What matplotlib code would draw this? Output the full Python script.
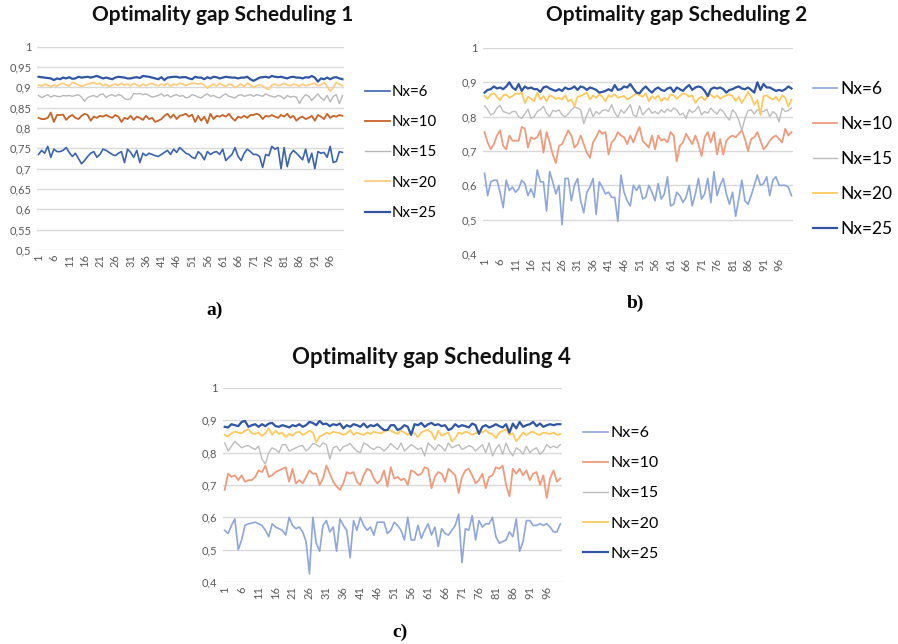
"""
Optimality gap per scheduling strategy (three Excel-style line charts).
"""

import numpy as np
import matplotlib
matplotlib.use("Agg")
import matplotlib.pyplot as plt

W, H = 898, 644

labels = ["Nx=6", "Nx=10", "Nx=15", "Nx=20", "Nx=25"]
runs = np.arange(1, 101)

# values below are in thousandths (0.925 -> 925)
s1_nx6 = [
    735, 745, 738, 755, 728, 748, 742, 742, 745, 752,
    740, 730, 738, 725, 712, 720, 730, 738, 742, 728,
    735, 748, 745, 740, 735, 732, 738, 742, 715, 748,
    740, 728, 745, 715, 738, 732, 738, 735, 732, 730,
    735, 740, 745, 735, 748, 740, 752, 745, 738, 735,
    728, 725, 742, 735, 722, 742, 735, 740, 742, 735,
    748, 720, 728, 735, 752, 730, 720, 738, 748, 742,
    735, 735, 730, 703, 735, 732, 755, 748, 752, 700,
    752, 705, 735, 745, 738, 730, 722, 748, 715, 738,
    700, 742, 738, 740, 728, 755, 715, 718, 742, 740,
]
s1_nx10 = [
    825, 822, 822, 825, 838, 815, 832, 832, 833, 820,
    828, 832, 825, 822, 830, 835, 832, 818, 828, 825,
    830, 828, 832, 828, 825, 832, 828, 815, 825, 822,
    830, 820, 828, 825, 820, 830, 822, 825, 815, 818,
    822, 830, 835, 825, 833, 822, 830, 832, 835, 828,
    833, 815, 830, 818, 828, 812, 835, 822, 830, 828,
    832, 828, 835, 825, 818, 828, 825, 830, 825, 832,
    832, 835, 832, 822, 830, 828, 832, 828, 825, 832,
    828, 835, 825, 830, 818, 825, 828, 822, 825, 830,
    818, 832, 828, 822, 835, 825, 830, 828, 832, 830,
]
s1_nx15 = [
    880, 875, 878, 882, 876, 880, 878, 877, 880, 879,
    880, 878, 880, 882, 876, 866, 875, 878, 880, 876,
    882, 884, 875, 880, 882, 878, 882, 880, 872, 870,
    872, 885, 884, 885, 882, 884, 880, 876, 878, 880,
    884, 878, 882, 876, 880, 882, 878, 880, 874, 876,
    882, 880, 876, 874, 880, 884, 878, 880, 876, 874,
    880, 884, 878, 876, 874, 880, 882, 878, 880, 882,
    878, 882, 880, 878, 884, 880, 878, 876, 880, 878,
    872, 880, 876, 878, 876, 860, 874, 882, 878, 868,
    876, 884, 874, 868, 880, 864, 878, 882, 860, 880,
]
s1_nx20 = [
    906, 903, 908, 905, 902, 906, 903, 908, 910, 906,
    903, 912, 910, 906, 903, 905, 908, 910, 912, 908,
    910, 904, 908, 902, 906, 908, 905, 910, 906, 908,
    904, 910, 906, 903, 908, 904, 908, 910, 906, 904,
    908, 905, 910, 903, 908, 906, 910, 908, 904, 908,
    910, 910, 908, 910, 905, 898, 904, 908, 903, 910,
    906, 902, 908, 906, 900, 904, 908, 902, 910, 906,
    900, 904, 906, 904, 898, 895, 906, 908, 904, 906,
    910, 906, 904, 908, 906, 903, 908, 904, 906, 908,
    910, 904, 906, 912, 903, 890, 900, 912, 908, 904,
]
s1_nx25 = [
    926, 925, 924, 923, 922, 918, 922, 920, 924, 922,
    925, 921, 922, 926, 924, 925, 926, 924, 926, 928,
    925, 922, 924, 922, 920, 924, 926, 925, 924, 922,
    922, 924, 925, 923, 928, 927, 926, 924, 922, 920,
    925, 918, 924, 925, 926, 926, 924, 925, 925, 922,
    920, 926, 924, 924, 920, 925, 922, 926, 925, 922,
    924, 926, 925, 924, 924, 922, 924, 924, 926, 920,
    916, 920, 924, 925, 926, 924, 928, 926, 925, 926,
    924, 922, 925, 926, 924, 924, 922, 925, 924, 928,
    924, 914, 922, 920, 924, 920, 924, 925, 922, 920,
]

s2_nx6 = [
    635, 570, 610, 615, 615, 580, 535, 615, 585, 595,
    580, 590, 615, 605, 570, 590, 565, 645, 610, 610,
    525, 640, 610, 575, 600, 485, 620, 620, 555, 600,
    620, 555, 520, 580, 595, 620, 515, 610, 595, 575,
    580, 565, 565, 495, 630, 580, 555, 540, 600, 585,
    600, 560, 565, 600, 580, 555, 605, 560, 575, 625,
    540, 545, 580, 570, 550, 565, 600, 540, 575, 620,
    560, 575, 620, 550, 640, 570, 600, 620, 575, 545,
    580, 510, 560, 615, 555, 545, 570, 600, 630, 600,
    605, 625, 570, 615, 625, 600, 600, 600, 595, 570,
]
s2_nx10 = [
    755, 725, 705, 720, 745, 760, 715, 705, 745, 730,
    730, 730, 770, 765, 710, 740, 735, 740, 760, 695,
    755, 725, 690, 665, 715, 720, 740, 760, 745, 710,
    720, 745, 720, 695, 680, 725, 740, 760, 750, 755,
    690, 725, 735, 755, 745, 740, 720, 745, 725, 750,
    770, 730, 720, 710, 745, 705, 745, 730, 735, 725,
    755, 745, 670, 715, 725, 750, 735, 720, 745, 720,
    685, 740, 755, 725, 755, 690, 735, 690, 730, 740,
    745, 740, 750, 760, 735, 700, 735, 740, 755, 730,
    705, 715, 730, 740, 745, 735, 725, 765, 745, 755,
]
s2_nx15 = [
    832, 820, 805, 810, 825, 833, 815, 812, 808, 815,
    815, 800, 795, 808, 822, 795, 800, 815, 820, 830,
    810, 800, 818, 815, 820, 805, 800, 808, 820, 828,
    825, 820, 780, 805, 825, 800, 815, 808, 818, 820,
    815, 835, 812, 798, 820, 810, 822, 835, 805, 800,
    832, 805, 815, 825, 810, 815, 808, 820, 812, 822,
    815, 825, 820, 805, 810, 795, 820, 812, 818, 830,
    805, 815, 810, 825, 815, 808, 822, 815, 800, 790,
    820, 810, 790, 760, 795, 818, 820, 808, 820, 815,
    815, 822, 800, 815, 808, 785, 825, 815, 818, 825,
]
s2_nx20 = [
    860, 852, 865, 868, 858, 848, 862, 865, 855, 860,
    868, 866, 870, 840, 858, 852, 845, 870, 850, 860,
    845, 862, 858, 852, 855, 850, 862, 845, 850, 830,
    858, 860, 865, 870, 850, 862, 855, 865, 858, 845,
    862, 858, 865, 855, 858, 860, 850, 855, 862, 868,
    862, 858, 868, 845, 860, 852, 862, 845, 855, 848,
    865, 862, 852, 860, 868, 865, 858, 862, 840, 852,
    858, 848, 860, 865, 855, 862, 852, 858, 862, 865,
    860, 845, 858, 840, 855, 872, 858, 835, 848, 805,
    860, 862, 855, 850, 858, 845, 862, 855, 830, 850,
]
s2_nx25 = [
    870, 878, 880, 888, 882, 885, 880, 888, 900, 885,
    878, 895, 875, 888, 882, 885, 880, 880, 872, 885,
    888, 882, 878, 875, 880, 875, 885, 880, 882, 888,
    878, 888, 885, 878, 885, 882, 878, 870, 872, 875,
    880, 875, 892, 878, 880, 888, 885, 895, 882, 870,
    868, 880, 888, 878, 870, 880, 885, 878, 875, 882,
    885, 872, 885, 880, 875, 885, 892, 878, 885, 888,
    885, 875, 860, 880, 885, 882, 885, 880, 870, 878,
    880, 885, 888, 882, 880, 885, 878, 870, 900, 878,
    895, 885, 885, 880, 875, 878, 875, 880, 888, 882,
]

s4_nx6 = [
    560, 550, 575, 595, 500, 530, 575, 580, 582, 585,
    580, 575, 560, 540, 580, 570, 565, 560, 545, 600,
    575, 565, 570, 555, 525, 425, 600, 520, 495, 575,
    590, 555, 570, 495, 595, 575, 560, 475, 590, 560,
    600, 575, 560, 570, 545, 585, 585, 585, 550, 560,
    585, 575, 560, 530, 600, 530, 530, 575, 535, 560,
    580, 545, 570, 510, 565, 550, 545, 560, 575, 610,
    460, 565, 560, 605, 530, 590, 570, 580, 580, 600,
    540, 520, 525, 530, 555, 540, 595, 495, 525, 590,
    590, 575, 575, 580, 575, 580, 570, 555, 555, 580,
]
s4_nx10 = [
    685, 735, 725, 730, 715, 730, 710, 715, 715, 725,
    745, 740, 760, 725, 730, 740, 745, 750, 755, 710,
    750, 705, 715, 705, 725, 745, 735, 735, 700, 720,
    760, 735, 710, 695, 685, 705, 740, 735, 740, 710,
    700, 730, 750, 745, 720, 705, 715, 745, 695, 755,
    720, 725, 715, 720, 700, 745, 740, 730, 735, 755,
    750, 690, 725, 740, 735, 710, 750, 740, 730, 675,
    725, 745, 750, 730, 705, 715, 735, 690, 725, 730,
    755, 750, 760, 700, 665, 750, 735, 750, 730, 745,
    715, 735, 740, 700, 730, 660, 720, 745, 710, 720,
]
s4_nx15 = [
    830, 805, 820, 835, 825, 815, 820, 822, 815, 810,
    820, 780, 765, 800, 815, 810, 800, 825, 825, 805,
    810, 815, 820, 822, 805, 815, 828, 825, 818, 830,
    825, 780, 815, 820, 805, 818, 822, 828, 815, 805,
    800, 830, 825, 815, 810, 818, 815, 805, 815, 828,
    818, 810, 830, 805, 815, 825, 818, 810, 815, 790,
    830, 820, 808, 825, 818, 805, 830, 815, 820, 825,
    810, 815, 822, 818, 805, 815, 825, 800, 830, 790,
    812, 825, 795, 830, 805, 790, 815, 808, 795, 820,
    800, 810, 815, 795, 805, 825, 815, 820, 815, 825,
]
s4_nx20 = [
    855, 850, 860, 865, 862, 860, 868, 872, 860, 858,
    862, 852, 860, 875, 855, 868, 858, 862, 848, 858,
    852, 862, 865, 855, 860, 868, 862, 832, 850, 855,
    862, 858, 865, 862, 860, 855, 860, 870, 855, 862,
    858, 855, 862, 858, 865, 862, 860, 865, 870, 868,
    862, 858, 868, 862, 855, 865, 860, 848, 862, 868,
    870, 862, 840, 868, 852, 858, 862, 835, 845, 862,
    858, 865, 862, 855, 860, 868, 862, 870, 860, 858,
    845, 862, 868, 872, 855, 860, 835, 848, 862, 855,
    862, 865, 858, 855, 862, 860, 858, 862, 855, 858,
]
s4_nx25 = [
    880, 878, 888, 885, 882, 895, 898, 880, 885, 888,
    880, 888, 882, 890, 892, 882, 880, 885, 882, 878,
    885, 882, 888, 880, 885, 895, 892, 885, 898, 888,
    890, 882, 888, 885, 890, 875, 885, 880, 888, 885,
    880, 890, 878, 885, 882, 888, 878, 870, 870, 885,
    885, 870, 875, 885, 880, 855, 888, 885, 892, 880,
    888, 892, 885, 888, 882, 885, 870, 875, 888, 880,
    885, 882, 878, 890, 885, 858, 880, 885, 878, 882,
    888, 882, 878, 888, 862, 890, 875, 895, 880, 885,
    888, 895, 882, 890, 880, 885, 888, 885, 888, 888,
]

colors_a = ["#3A64AE", "#C8632A", "#B8B8B8", "#FFCC80", "#2F55A4"]
colors_bc = ["#8DA6DC", "#F19A7C", "#BDBDBD", "#FFC95E", "#2F55A4"]
widths = [1.2, 1.3, 1.0, 1.3, 1.6]

TICK_GRAY = "#595959"
GRID = "#D9D9D9"

plt.rcParams["font.family"] = ["Lato", "DejaVu Sans"]


def px_axes(fig, left, top, right, bottom):
    return fig.add_axes([left / W, 1 - bottom / H, (right - left) / W, (bottom - top) / H])


def fmt(v):
    s = f"{v:.2f}".rstrip("0").rstrip(".")
    return s.replace(".", ",")


def draw_chart(fig, box, series, colors, ylim, step, title, title_xy, title_size,
               tag, tag_xy, leg):
    ax = px_axes(fig, *box)
    for vals, lab, c, lw in zip(series, labels, colors, widths):
        ax.plot(runs, np.array(vals) / 1000, color=c, lw=lw, label=lab)

    ax.set_xlim(0.5, 100.5)
    ax.set_ylim(*ylim)
    yt = np.arange(ylim[0], ylim[1] + step / 2, step)
    ax.set_yticks(yt)
    ax.set_yticklabels([fmt(v) for v in yt])
    xt = np.arange(1, 101, 5)
    ax.set_xticks(xt)
    ax.set_xticklabels([str(v) for v in xt], rotation=90)
    ax.tick_params(axis="both", length=0, colors=TICK_GRAY, labelsize=8, pad=4)
    ax.tick_params(axis="x", pad=3)
    ax.grid(axis="y", color=GRID, lw=1.0)
    ax.set_axisbelow(True)
    for sp in ax.spines.values():
        sp.set_visible(False)

    fig.text(title_xy[0] / W, 1 - title_xy[1] / H, title, ha="center", va="center",
             fontsize=title_size, fontweight="bold", color="#111111")
    fig.text(tag_xy[0] / W, 1 - tag_xy[1] / H, tag, ha="center", va="center",
             fontsize=14, fontweight="bold", family="Liberation Serif")

    lx, ly, size, hlen, spacing = leg
    ax.legend(loc="upper left", bbox_to_anchor=(lx / W, 1 - ly / H),
              bbox_transform=fig.transFigure, frameon=False,
              prop={"size": size}, handlelength=hlen,
              handletextpad=0.15, labelspacing=spacing, borderpad=0,
              borderaxespad=0)
    return ax


fig = plt.figure(figsize=(W / 100, H / 100), dpi=100)

draw_chart(fig, (37, 46.7, 344, 250),
           [s1_nx6, s1_nx10, s1_nx15, s1_nx20, s1_nx25], colors_a,
           (0.5, 1.0), 0.05, "Optimality gap Scheduling 1", (223, 15), 15,
           "a)", (215, 310), (365, 85, 10.8, 1.65, 1.08))

draw_chart(fig, (483, 48, 793, 254),
           [s2_nx6, s2_nx10, s2_nx15, s2_nx20, s2_nx25], colors_bc,
           (0.4, 1.0), 0.1, "Optimality gap Scheduling 2", (677, 15), 15,
           "b)", (635, 303), (813, 81, 12.5, 1.4, 1.1))

draw_chart(fig, (223, 388, 562, 582),
           [s4_nx6, s4_nx10, s4_nx15, s4_nx20, s4_nx25], colors_bc,
           (0.4, 1.0), 0.1, "Optimality gap Scheduling 4", (431, 358), 16,
           "c)", (400, 632), (583, 426, 11.5, 1.55, 1.0))

fig.savefig("out.png", dpi=100, facecolor="white")
